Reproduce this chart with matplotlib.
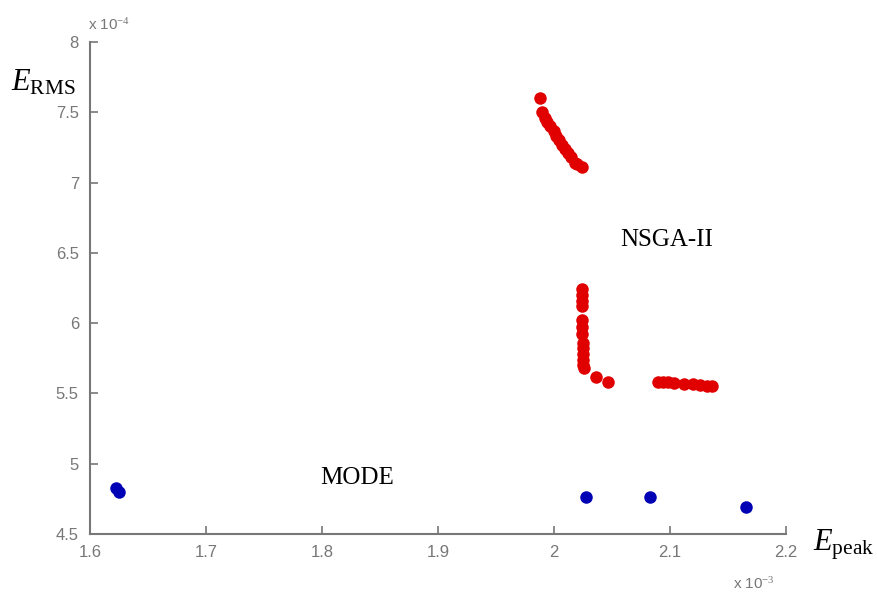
import numpy as np
import matplotlib
matplotlib.use("Agg")
import matplotlib.pyplot as plt

# values in axis units (x: 1e-3, y: 1e-4)
nsga_x = [1.988, 1.990, 1.992, 1.994, 1.997, 2.000, 2.002, 2.004, 2.007, 2.010,
          2.012, 2.015, 2.018, 2.020, 2.024,
          2.024, 2.024, 2.024, 2.024, 2.024, 2.024, 2.024, 2.025, 2.025, 2.025,
          2.025, 2.025, 2.026, 2.036, 2.047,
          2.090, 2.094, 2.098, 2.104, 2.112, 2.120, 2.126, 2.132, 2.136]
nsga_y = [7.60, 7.50, 7.46, 7.43, 7.40, 7.37, 7.33, 7.30, 7.27, 7.24,
          7.21, 7.18, 7.14, 7.13, 7.11,
          6.24, 6.20, 6.16, 6.12, 6.02, 5.97, 5.92, 5.86, 5.82, 5.78,
          5.74, 5.70, 5.68, 5.62, 5.58,
          5.58, 5.58, 5.58, 5.575, 5.57, 5.57, 5.56, 5.555, 5.55]
mode_x = [1.622, 1.625, 2.028, 2.083, 2.166]
mode_y = [4.83, 4.80, 4.765, 4.765, 4.69]

xticks = [1.6, 1.7, 1.8, 1.9, 2.0, 2.1, 2.2]
xlabels = ["1.6", "1.7", "1.8", "1.9", "2", "2.1", "2.2"]
yticks = [4.5, 5, 5.5, 6, 6.5, 7, 7.5, 8]
ylabels = ["4.5", "5", "5.5", "6", "6.5", "7", "7.5", "8"]

plt.rcParams["mathtext.fontset"] = "custom"
plt.rcParams["mathtext.rm"] = "Liberation Serif"
plt.rcParams["mathtext.it"] = "Liberation Serif:italic"

grey = "#777777"
fig = plt.figure(figsize=(8.78, 5.97), dpi=100)
ax = fig.add_axes([0.1025, 0.1055, 0.7925, 0.8241])

ax.plot(nsga_x, nsga_y, "o", color="#e00000", markersize=9, markeredgewidth=0)
ax.plot(mode_x, mode_y, "o", color="#0000b4", markersize=9, markeredgewidth=0)

ax.set_xlim(1.6, 2.2)
ax.set_ylim(4.5, 8)
ax.set_xticks(xticks, xlabels)
ax.set_yticks(yticks, ylabels)
for s in ["top", "right"]:
    ax.spines[s].set_visible(False)
for s in ["left", "bottom"]:
    ax.spines[s].set_color(grey)
    ax.spines[s].set_linewidth(1.5)
ax.tick_params(direction="in", length=6, width=1.2, color=grey, labelcolor=grey,
               labelsize=12, pad=8)
for lab in ax.get_xticklabels() + ax.get_yticklabels():
    lab.set_family("Liberation Sans")

serif = "Liberation Serif"
ax.text(2.097, 6.59, "NSGA-II", family=serif, fontsize=18, ha="center", va="center")
ax.text(1.83, 4.90, "MODE", family=serif, fontsize=18, ha="center", va="center")

fig.text(0.013, 0.862, r"$E_{\mathrm{RMS}}$", fontsize=22, ha="left", va="center")
fig.text(0.926, 0.087, r"$E_{\mathrm{peak}}$", fontsize=22, ha="left", va="center")
fig.text(0.10, 0.958, r"x 10$^{-4}$", family="Liberation Sans", fontsize=11,
         color=grey, ha="left", va="center")
fig.text(0.835, 0.022, r"x 10$^{-3}$", family="Liberation Sans", fontsize=11,
         color=grey, ha="left", va="center")

fig.savefig("out.png", dpi=100)
